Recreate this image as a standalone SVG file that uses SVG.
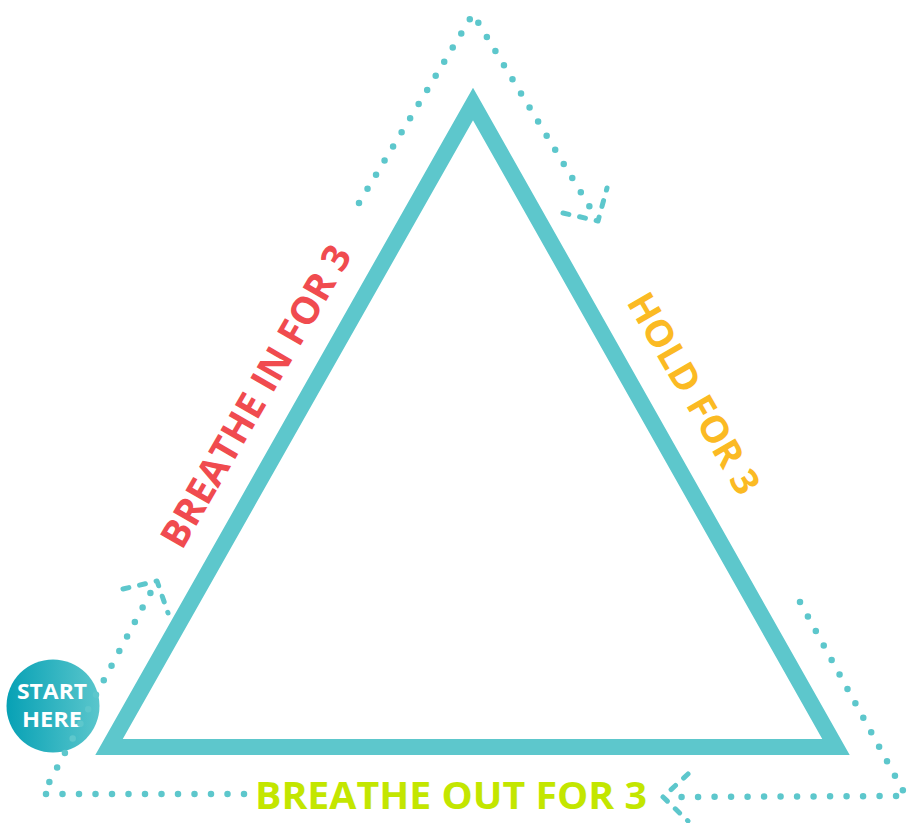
<svg xmlns="http://www.w3.org/2000/svg" width="909" height="823" viewBox="0 0 909 823">
  <defs>
    <linearGradient id="startGrad" x1="0" y1="0" x2="1" y2="0">
      <stop offset="0" stop-color="#07A1B5"/>
      <stop offset="1" stop-color="#5AC6CC"/>
    </linearGradient>
  </defs>
  <style>
    .tri { fill: none; stroke: #5DC7CC; stroke-width: 16; stroke-linejoin: miter; }
    .dots { fill: none; stroke: #5DC7CC; stroke-width: 6.5; stroke-linecap: round; stroke-linejoin: round; stroke-dasharray: 0 16.5; }
    .head { fill: none; stroke: #5DC7CC; stroke-width: 5; stroke-linecap: round; stroke-linejoin: round; stroke-dasharray: 6 11; }
    .label { font-family: "Open Sans", "Liberation Sans", sans-serif; font-weight: 700; }
  </style>
  <rect width="909" height="823" fill="#FFFFFF"/>
  <g id="triangle">
    <polygon class="tri" points="473,104 836,747 109,747"/>
  </g>
  <g id="start-here">
    <circle cx="53" cy="706" r="46.5" fill="url(#startGrad)"/>
    <text class="label" x="52" y="699" font-size="21" fill="#FFFFFF" text-anchor="middle" textLength="70" lengthAdjust="spacingAndGlyphs">START</text>
    <text class="label" x="52" y="727" font-size="21" fill="#FFFFFF" text-anchor="middle" textLength="60" lengthAdjust="spacingAndGlyphs">HERE</text>
  </g>
  <g id="connectors">
    <path class="dots" d="M244,794 L43,794 L153,588"/>
    <path class="head" d="M123,589 L157,581 L168,613"/>
    <path class="dots" d="M359,203 L473,14 L594,214"/>
    <path class="head" d="M563,213 L598,221 L607,188"/>
    <path class="dots" d="M800,602 L906,796 L676,797"/>
    <path class="head" d="M688,774 L663,797 L688,821"/>
  </g>
  <g id="breathe-in">
    <text class="label" transform="translate(182,551) rotate(-60)" x="0" y="0" font-size="38" fill="#F04B4F" textLength="342" lengthAdjust="spacingAndGlyphs">BREATHE IN FOR 3</text>
  </g>
  <g id="hold">
    <text class="label" transform="translate(626,302) rotate(60)" x="0" y="0" font-size="37" fill="#FBBA23" textLength="226" lengthAdjust="spacingAndGlyphs">HOLD FOR 3</text>
  </g>
  <g id="breathe-out">
    <text class="label" x="255" y="809" font-size="38" fill="#C3E600" textLength="392" lengthAdjust="spacingAndGlyphs">BREATHE OUT FOR 3</text>
  </g>
</svg>
